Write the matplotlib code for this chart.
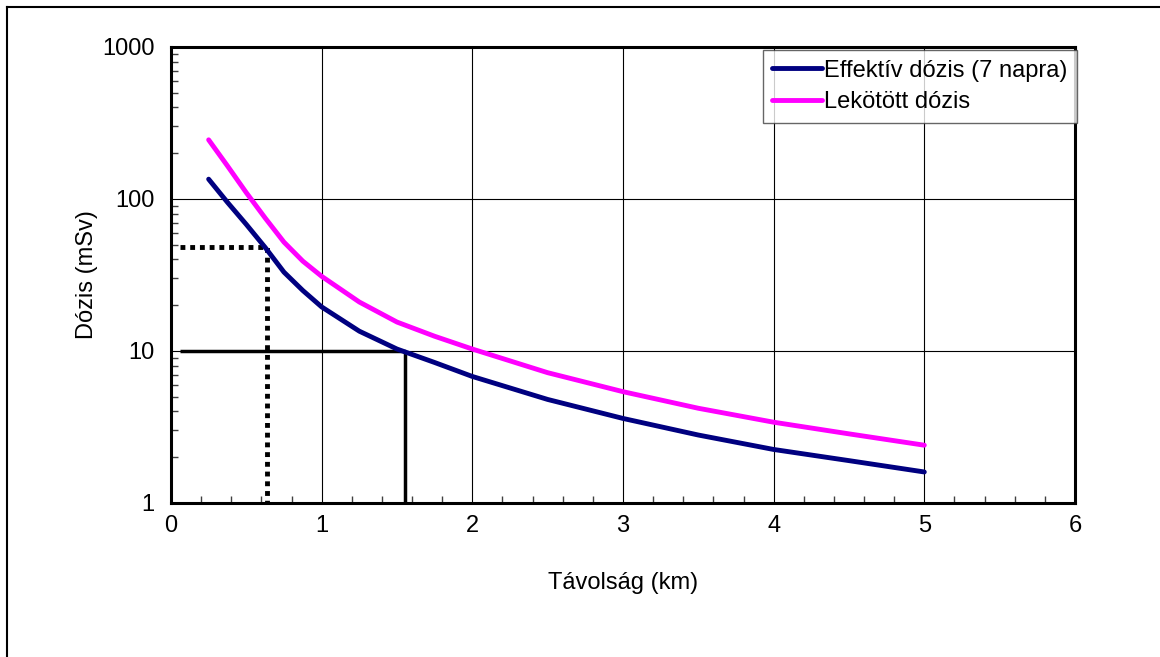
import matplotlib.pyplot as plt
import numpy as np
from matplotlib.lines import Line2D
from matplotlib.ticker import FixedLocator, LogLocator, NullFormatter

plt.rcParams['font.family'] = ['Liberation Sans', 'DejaVu Sans']

# distance (km) and dose values
tavolsag = [0.25, 0.375, 0.5, 0.625, 0.75, 0.875, 1.0, 1.25, 1.5, 1.75, 2.0, 2.5, 3.0, 3.5, 4.0, 4.5, 5.0]
effektiv = [135, 95, 68, 48, 33, 25, 19.5, 13.5, 10.3, 8.4, 6.8, 4.8, 3.6, 2.8, 2.25, 1.9, 1.6]
lekotott = [245, 165, 110, 75, 52, 39, 31, 21, 15.5, 12.5, 10.3, 7.2, 5.4, 4.2, 3.4, 2.85, 2.4]

# reference lines (x, y)
ref_solid_x = [0.06, 1.55, 1.55]
ref_solid_y = [10, 10, 1]
ref_dot_x = [0.06, 0.64, 0.64]
ref_dot_y = [48, 48, 1]

fig = plt.figure(figsize=(11.6, 6.57), dpi=100)
ax = fig.add_axes([0.1474, 0.2344, 0.7793, 0.6941])

# outer chart frame (top + left visible)
fig.add_artist(Line2D([7/1160, 1], [1 - 7/657, 1 - 7/657], color='black', lw=1.5))
fig.add_artist(Line2D([7/1160, 7/1160], [0, 1 - 7/657], color='black', lw=1.5))

ax.plot(ref_solid_x, ref_solid_y, color='black', lw=2.5, solid_capstyle='butt', zorder=3)
ax.plot(ref_dot_x, ref_dot_y, color='black', lw=3.5, linestyle=(0, (1, 1)),
        dash_capstyle='butt', zorder=3)

ax.plot(tavolsag, effektiv, color='#000080', lw=3.5, solid_capstyle='round',
        label='Effektív dózis (7 napra)', zorder=4)
ax.plot(tavolsag, lekotott, color='#FF00FF', lw=3.5, solid_capstyle='round',
        label='Lekötött dózis', zorder=4)

ax.set_yscale('log')
ax.set_xlim(0, 6)
ax.set_ylim(1, 1000)
ax.xaxis.set_major_locator(FixedLocator([0, 1, 2, 3, 4, 5, 6]))
ax.xaxis.set_minor_locator(FixedLocator(np.arange(0, 6.01, 0.2)))
ax.yaxis.set_major_locator(FixedLocator([1, 10, 100, 1000]))
ax.yaxis.set_minor_locator(LogLocator(base=10, subs=np.arange(2, 10)))
ax.yaxis.set_minor_formatter(NullFormatter())
ax.set_yticklabels(['1', '10', '100', '1000'])

ax.grid(True, which='major', color='black', lw=0.8)
ax.tick_params(which='major', length=0, labelsize=17)
ax.tick_params(axis='x', which='major', pad=9)
ax.tick_params(axis='y', which='major', pad=12)
ax.tick_params(which='minor', direction='in', length=5, width=1, color='#404040')
for s in ax.spines.values():
    s.set_linewidth(2.2)

ax.set_xlabel('Távolság (km)', fontsize=17, labelpad=25)
ax.set_ylabel('Dózis (mSv)', fontsize=17, labelpad=3)

leg = ax.legend(loc='upper right', bbox_to_anchor=(1.002, 0.993), fontsize=17,
                frameon=True, fancybox=False, edgecolor='#404040',
                handlelength=2.1, handletextpad=0.1, borderpad=0.4,
                labelspacing=0.4, borderaxespad=0)
leg.get_frame().set_linewidth(1.0)

fig.savefig('out.png', dpi=100)
